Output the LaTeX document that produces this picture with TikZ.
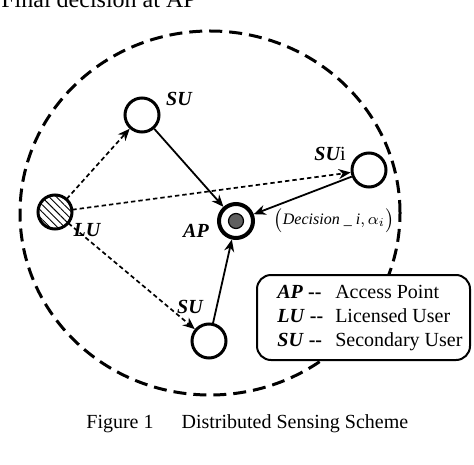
\documentclass[tikz,border=0pt]{standalone}
\usepackage{fontspec}
\setmainfont{Liberation Serif}
\usetikzlibrary{arrows.meta,patterns.meta}
\tikzstyle{user} = [draw,circle,line width=1.5pt,inner sep=0,minimum size=17pt]
\tikzstyle{tag} = [font=\bfseries\itshape,inner sep=0]
\tikzstyle{sense} = [-{Stealth[length=6pt,width=5pt]},line width=0.85pt,dash pattern=on 2.2pt off 1.5pt]
\tikzstyle{report} = [-{Stealth[length=6pt,width=5pt]},line width=0.9pt]
\tikzstyle{coverage} = [line width=1.5pt,dash pattern=on 6.5pt off 3.5pt]
\definecolor{apgray}{RGB}{95,95,95}

\begin{document}
\begin{tikzpicture}[x=0.5pt,y=-0.5pt]
  \clip (0,0) rectangle (474,464);
  \node[anchor=base west,inner sep=0,font=\fontsize{12}{14}\selectfont] (title) at (1,8) {Final decision at AP};
  % coverage of the AP
  \draw[coverage] (210,213) ellipse [x radius=95pt,y radius=91pt];
  % users
  \node[user,pattern={Lines[angle=-45,distance=2.6pt,line width=0.45pt]}] (lu) at (55,212) {};
  \node[user] (su1) at (142,115) {};
  \node[user] (sui) at (369,170) {};
  \node[user] (su2) at (209,341) {};
  \node[user,line width=2pt] (ap) at (236,221) {};
  \node[circle,draw,fill=apgray,line width=0.6pt,minimum size=7.5pt,inner sep=0] (apcore) at (ap) {};
  % sensing and reports
  \draw[sense] (lu) -- (su1);
  \draw[sense] (lu) -- (sui);
  \draw[sense] (lu) -- (su2);
  \draw[report] (su1) -- (ap);
  \draw[report] (sui) -- (ap);
  \draw[report] (su2) -- (ap);
  % labels
  \node[tag] (su1tag) at (179,99) {SU};
  \node[tag] (lutag) at (87,230) {LU};
  \node[tag] (aptag) at (196,231) {AP};
  \node[tag] (suitag) at (330,154) {SU{\normalfont i}};
  \node[tag] (su2tag) at (190,307) {SU};
  \node[font=\footnotesize,inner sep=0] (decision) at (334,220) {$\bigl(\mbox{\textit{Decision \_ i}},\alpha_i\bigr)$};
  % legend
  \node[draw,line width=1pt,rounded corners=7pt,fill=white,minimum width=106.5pt,minimum height=42.5pt] (legend) at (363.5,317.5) {};
  \node[anchor=west,inner sep=0] (legendtext) at (277,318) {\begin{tabular}{@{}l@{\hspace{6pt}}l@{}}
    \textbf{\textit{AP} -{}-} & Access Point\\
    \textbf{\textit{LU} -{}-} & Licensed User\\
    \textbf{\textit{SU} -{}-} & Secondary User
  \end{tabular}};
  \node[anchor=base west,inner sep=0] (caption) at (86,428) {Figure 1\hspace{14pt}Distributed Sensing Scheme};
\end{tikzpicture}
\end{document}
